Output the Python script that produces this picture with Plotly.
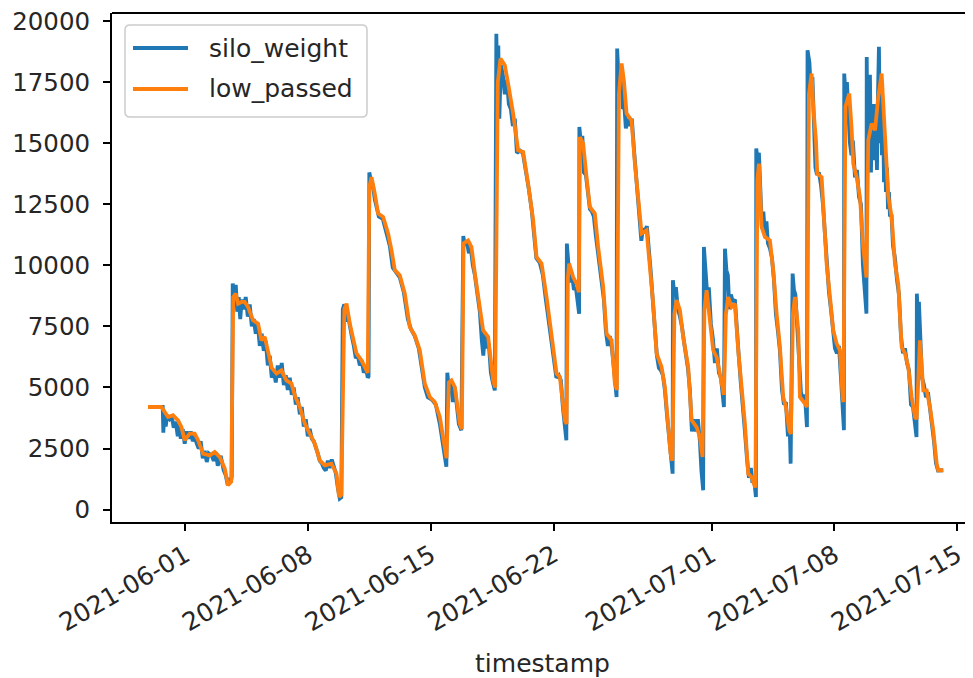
import pandas as pd
import plotly.graph_objects as go

# ---------------- data ----------------
base_time = "2021-05-29 00:00"

# silo_weight: hours since base_time and weights
silo_hours = [
    20.8, 40.9, 41.8, 43.0, 45.0, 47.1, 50.5, 53.3, 56.0, 58.7, 61.5, 63.5, 65.6, 68.3, 71.0, 73.8, 76.5, 79.3, 82.0, 84.7,
    87.5, 90.2, 92.9, 95.7, 98.4, 101.2, 103.9, 108.0, 110.7, 113.5, 116.2, 120.3, 124.4, 127.2, 129.9, 132.0, 134.0, 135.4,
    136.7, 138.8, 140.9, 142.9, 145.0, 147.0, 149.1, 151.8, 154.5, 157.3, 160.0, 162.8, 165.5, 168.2, 171.0, 173.7, 176.4, 179.2, 181.9, 184.7,
    187.4, 190.1, 192.9, 195.6, 198.3, 201.1, 203.8, 206.6, 209.3, 212.0, 214.8, 217.5, 220.2, 223.0, 225.7, 228.5, 231.2, 233.9, 236.7, 239.4,
    242.1, 244.9, 247.6, 250.3, 253.1, 255.8, 258.6, 261.3, 264.0, 266.8, 269.5, 272.2, 275.0, 277.7, 280.5, 283.2, 285.3,
    287.3, 289.4, 291.4, 294.1, 296.9, 299.6, 302.4, 305.1, 307.8, 310.6, 313.3, 316.0, 318.8, 321.5, 322.6,
    323.6, 325.6, 328.4, 331.1, 333.8, 336.6, 342.0, 347.5, 351.6, 355.7, 359.8, 365.3, 370.8, 376.3, 380.4, 385.8, 391.3, 395.4, 399.5, 403.6,
    409.1, 414.6, 420.1, 424.2, 426.9, 429.0,
    430.3, 432.4, 435.1, 437.9, 440.6, 443.3, 446.1, 449.5,
    452.2, 454.3, 457.0, 459.8, 462.5, 465.2, 468.0, 470.7, 474.8, 477.6, 479.6, 481.7, 484.4, 487.1, 489.9, 492.6, 495.3,
    497.4, 498.8, 500.1, 501.5, 503.6, 506.3, 509.0, 511.8, 514.5, 517.2, 520.0, 522.7, 525.5, 529.6, 533.7, 537.8, 541.9, 546.0, 548.7, 552.1,
    556.9, 561.0, 565.1, 569.2, 573.4, 576.1, 579.5, 582.9, 585.7, 588.4, 591.2, 593.2,
    593.9, 595.3, 598.0, 600.7, 603.5, 606.2, 608.9, 610.7,
    611.0, 613.1, 615.1, 617.2, 619.9, 622.6, 625.4, 628.1, 630.8, 633.6, 636.3, 639.1, 641.8, 644.5, 647.3, 650.0, 652.7, 655.5, 658.2, 661.0, 661.9,
    662.7, 664.4, 666.4, 668.5, 670.5, 672.6, 674.6, 677.4, 680.1, 682.8, 685.6, 688.3, 691.1, 693.8, 695.8, 697.9, 700.6, 703.4, 706.1, 708.8,
    711.6, 714.3, 717.1, 719.8, 722.5, 725.3, 728.0, 730.8, 733.5, 736.2, 738.6,
    739.0, 741.0, 743.1, 745.8, 748.6, 751.3, 754.0, 756.8, 759.5, 762.2, 765.0, 767.7, 770.5, 773.2, 775.9, 778.0, 779.6, 780.4,
    781.4, 782.8, 784.1, 786.2, 788.2, 791.0, 793.7, 796.5, 799.2, 801.9, 804.7, 807.4, 808.8,
    810.2, 812.2, 814.2, 816.3, 818.4, 821.1, 823.8, 826.6, 829.3, 832.1, 834.8, 837.5, 840.3, 843.0, 845.7, 847.8, 849.8, 852.6,
    853.0, 854.6, 856.7, 858.7, 860.8, 862.8, 864.9, 867.0, 869.0, 871.7, 874.5, 877.2, 879.9, 882.7, 885.4, 888.2, 890.9, 893.6, 896.4, 898.4, 900.1,
    902.8, 904.6, 906.6, 908.7, 911.4, 914.2, 916.9, 919.6, 922.4,
    923.2, 925.8, 927.9, 929.9, 932.0, 934.0, 936.1, 938.8, 941.5, 944.3, 947.0, 949.7, 952.5, 955.2, 958.0, 960.7, 963.4, 966.2, 968.9, 971.6, 973.0,
    973.4, 975.1, 977.1, 979.2, 981.2, 983.3, 985.3, 988.1, 990.8, 993.6, 996.3, 999.0, 1001.8, 1003.8,
    1004.2, 1005.2, 1006.3, 1007.2, 1008.6, 1010.0, 1011.3, 1012.7, 1014.1, 1015.5, 1016.8, 1018.2, 1019.6, 1020.9, 1022.3, 1023.7, 1025.0, 1026.4,
    1027.8, 1029.1, 1030.5, 1031.9, 1033.3, 1034.6, 1036.0, 1038.0, 1040.1, 1042.8, 1045.6, 1048.3, 1051.0, 1053.8, 1056.5, 1059.3, 1062.0, 1064.7,
    1067.5, 1070.2, 1072.3,
    1072.8, 1074.3, 1075.6, 1077.7, 1079.8, 1082.5, 1085.2, 1088.0, 1090.7, 1093.5, 1096.2, 1098.9, 1101.7, 1108.9,
]
silo_weight = [
    4200, 4200, 3150, 3900, 3400, 3850, 3700, 3800, 3350, 3600, 3000, 3500, 2900, 3300, 2700, 3200, 2900, 3200, 2800, 3000,
    2700, 2500, 2800, 2100, 2400, 1950, 2300, 2200, 2000, 2350, 1800, 2200, 1600, 1400, 1000, 1300, 1100, 1350,
    9250, 8900, 9200, 8100, 8700, 7800, 8600, 8200, 8700, 7900, 8400, 7500, 7800, 7200, 7600, 6700, 7200, 6500, 6900, 5900,
    6300, 5400, 5700, 5200, 5900, 5400, 6000, 5100, 5500, 4900, 5400, 4700, 5000, 4300, 4600, 3900, 4200, 3400, 3700, 3000,
    3300, 2900, 2800, 2600, 2300, 2000, 1900, 1700, 1600, 2000, 1700, 2050, 1700, 1500, 900, 450, 500,
    8200, 8400, 7700, 8000, 7400, 7100, 6700, 6200, 6300, 5900, 6100, 5600, 5800, 5400, 5450,
    13800, 13500, 13300, 12700, 12300, 12000, 11900, 11300, 10800, 9900, 9700, 9500, 8900, 7800, 7400, 7100, 6600, 5800, 5000, 4600,
    4500, 4300, 3500, 2700, 2100, 1750,
    5600, 5000, 5200, 4400, 5000, 4300, 3500, 3250,
    11200, 10800, 11000, 10500, 10700, 10000, 9600, 9000, 8100, 6900, 6300, 7200, 6600, 6800, 5600, 5200, 4880,
    19480, 17000, 19000, 16000, 18200, 17800, 17000, 17600, 16600, 16400, 15700, 16000, 14600, 14700, 14600, 13900, 13100, 12200, 11300, 10300,
    10100, 9600, 8600, 7600, 6600, 6200, 5400, 5500, 5300, 4200, 3400, 2840,
    10890, 10400, 9300, 9700, 9000, 9100, 8500, 8020,
    15660, 15000, 15300, 13800, 13700, 12900, 12300, 12200, 12000, 11200, 10500, 10000, 9400, 8600, 7300, 6700, 7100, 6600, 5800, 4800, 4610,
    18870, 17800, 17500, 18000, 16400, 16500, 15600, 16000, 15700, 16000, 14800, 13800, 12700, 11600, 11000, 11500, 11400, 11600, 10800, 9700,
    8500, 7100, 6300, 5800, 5700, 5500, 4900, 3900, 2900, 2000, 1470,
    9390, 8800, 9100, 8200, 7900, 7500, 6900, 6300, 5800, 4900, 3200, 3700, 3200, 3700, 2800, 1600, 1200, 790,
    10750, 10000, 9800, 8700, 9100, 7600, 7000, 6000, 6600, 5600, 5400, 4600, 4200,
    10680, 9800, 9600, 8200, 8800, 8500, 8600, 7200, 6200, 5100, 4300, 3200, 2100, 1300, 1700, 1100, 1300, 515,
    14780, 14400, 14600, 12500, 11500, 12200, 11200, 11800, 10900, 10700, 10300, 9400, 8000, 7300, 6500, 4900, 4300, 4400, 3000, 3800, 1880,
    9660, 9000, 8800, 7500, 6500, 4800, 4500, 4700, 3380,
    18800, 18300, 17000, 17700, 15500, 14000, 13700, 13800, 13300, 12500, 11300, 10000, 8900, 8200, 7300, 6600, 6400, 6700, 5400, 4200, 3250,
    17850, 17000, 17500, 15800, 15000, 14500, 15100, 13600, 13900, 12800, 12500, 10000, 9000, 8020,
    18530, 14500, 17500, 14000, 17800, 13800, 16500, 14600, 16600, 14300, 15500, 13900, 17000, 18940, 15000, 17800, 14500, 16500,
    13400, 15000, 13000, 14000, 12300, 13000, 12000, 12100, 10800, 10300, 9400, 8800, 7100, 6400, 6600, 6000, 5700, 4300,
    4200, 3300, 2970,
    8840, 7600, 8500, 6500, 5400, 5100, 4600, 4800, 4200, 3300, 2800, 1900, 1600, 1610,
]

# low_passed: hours since base_time and smoothed weights
low_hours = [
    20.8, 39.2, 48.2, 55.0, 61.9, 66.5, 71.0, 77.9, 84.7, 89.3, 96.1, 105.3, 112.1, 119.0, 125.8, 130.3, 134.7,
    137.4, 140.9, 144.0, 148.7, 153.2, 157.7, 164.5, 171.4, 176.0, 180.5, 185.1, 190.1, 196.6, 203.4, 210.2, 217.1, 221.6, 228.5,
    235.3, 242.1, 249.0, 255.8, 262.7, 271.8, 278.7, 282.2, 285.3,
    289.4, 292.4, 296.9, 301.4, 306.1, 312.9, 317.4, 321.5,
    323.6, 326.6, 331.1, 335.6, 342.5, 349.3, 354.0, 358.5, 365.3, 372.2, 379.0, 385.8, 392.7, 399.5, 406.4, 413.2, 420.1, 426.9, 429.2,
    432.4, 436.1, 440.6, 447.4, 450.2,
    452.6, 458.8, 463.4, 468.0, 474.8, 479.3, 486.2, 493.0, 495.8,
    499.4, 503.1, 509.0, 513.5, 520.4, 527.2, 534.1, 540.9, 547.8, 552.4, 559.3, 566.1, 573.0, 579.8, 584.3, 591.2, 593.5,
    595.3, 597.0, 602.5, 607.2, 610.3,
    611.7, 616.2, 620.8, 625.4, 632.2, 636.7, 643.6, 648.2, 655.1, 659.6, 662.3,
    665.1, 668.8, 671.9, 675.6, 682.4, 687.0, 691.5, 696.1, 703.0, 707.5, 712.0, 716.7, 723.5, 728.0, 732.5, 735.8, 738.3,
    741.0, 744.0, 748.6, 753.1, 759.9, 764.6, 771.4, 775.9, 779.6,
    782.1, 785.1, 789.6, 794.1, 798.8, 803.3, 807.0, 808.8,
    811.5, 814.6, 819.3, 823.8, 828.4, 833.0, 837.5, 842.0, 846.7, 849.8, 851.9,
    854.6, 856.7, 860.4, 864.9, 871.7, 876.3, 880.9, 885.4, 889.9, 893.6, 898.1, 900.5,
    903.2, 906.0, 910.5, 912.8, 919.6, 922.4,
    925.1, 928.8, 931.0, 934.7, 936.5, 942.5, 945.6, 949.3, 953.9, 958.4, 963.0, 967.5, 971.2, 972.3,
    975.1, 980.3, 983.6, 985.8, 990.4, 994.9, 999.4, 1001.7, 1003.8,
    1006.3, 1010.9, 1015.5, 1020.0, 1024.6, 1029.1, 1033.7, 1038.3, 1042.8, 1047.3, 1052.0, 1056.5, 1061.0, 1065.7, 1070.2, 1072.5,
    1077.0, 1081.6, 1086.2, 1090.7, 1095.2, 1099.9, 1102.1, 1108.9,
]
low_passed = [
    4200, 4200, 3790, 3860, 3655, 3380, 2840, 3110, 3110, 2840, 2290, 2220, 2360, 2150, 1680, 995, 1150,
    8700, 8840, 8430, 8500, 8500, 8290, 7750, 7610, 6930, 7070, 6500, 5800, 5570, 5700, 5290, 5160, 4680, 4200,
    3520, 3110, 2700, 2020, 1810, 1880, 1470, 520, 600,
    8200, 8430, 7610, 7070, 6390, 6110, 5840, 5600,
    13200, 13610, 12930, 12120, 11980, 11300, 10610, 9800, 9590, 8840, 7470, 7130, 6520, 5160, 4610, 4400, 3790, 2430, 2100,
    5200, 5290, 5020, 3520, 3300,
    10900, 11020, 10750, 9660, 8290, 7340, 7070, 5290, 5000,
    17500, 18460, 18190, 17440, 16210, 14710, 14640, 13340, 11840, 10340, 10070, 8700, 7070, 5570, 5430, 3660, 3500,
    9500, 10070, 9520, 9250, 8900,
    15250, 14980, 13610, 12390, 12120, 10750, 9110, 7200, 6930, 5160, 4900,
    17000, 18260, 17570, 16210, 15930, 14160, 12530, 11300, 11430, 10070, 8430, 6390, 5840, 5020, 3660, 2290, 2000,
    8000, 8570, 8160, 7070, 5840, 3660, 3380, 2970, 2150,
    8200, 8980, 7750, 6520, 6250, 5570, 4880, 4700,
    8000, 8700, 8290, 8430, 6520, 5160, 3520, 1470, 1330, 1060, 900,
    13500, 14160, 11570, 11160, 11020, 9800, 8020, 6660, 4610, 4200, 3250, 3100,
    8000, 8700, 7340, 4610, 4340, 4200,
    17000, 17850, 16480, 15120, 13750, 13610, 11980, 10070, 8700, 7340, 6800, 6520, 4610, 4400,
    16500, 17030, 15530, 14160, 13610, 12800, 10750, 9930, 9500,
    15120, 15800, 15530, 16890, 17850, 15530, 12800, 11980, 10070, 9250, 6660, 6390, 5840, 4610, 3790, 3700,
    6930, 4880, 4880, 4200, 3250, 1880, 1610, 1610,
]

series_names = ["silo_weight", "low_passed"]
series_colors = ["#1f77b4", "#ff7f0e"]
y_ticks = [0, 2500, 5000, 7500, 10000, 12500, 15000, 17500, 20000]
x_ticks = ["2021-06-01", "2021-06-08", "2021-06-15", "2021-06-22", "2021-07-01", "2021-07-08", "2021-07-15"]

# ---------------- figure ----------------
t0 = pd.Timestamp(base_time)
silo_time = t0 + pd.to_timedelta(silo_hours, unit="h")
low_time = t0 + pd.to_timedelta(low_hours, unit="h")

FONT = "DejaVu Sans"
FS = 24.5
TXT = "#262626"
# the page body has an 8px margin, so the figure is 8px smaller than the window
W, H = 965, 670
ML, MR, MT, MB = 104, 0, 5, 156
PW, PH = W - ML - MR, H - MT - MB
OFF = 8  # page offset


def px_x(x):  # window pixel -> paper fraction
    return (x - OFF - ML) / PW


def px_y(y):
    return (H - MB - (y - OFF)) / PH


fig = go.Figure()
fig.add_trace(go.Scatter(x=silo_time, y=silo_weight, mode="lines", name=series_names[0],
                         line=dict(color=series_colors[0], width=3.8), showlegend=False))
fig.add_trace(go.Scatter(x=low_time, y=low_passed, mode="lines", name=series_names[1],
                         line=dict(color=series_colors[1], width=3.8), showlegend=False))

fig.update_layout(
    width=W, height=H,
    margin=dict(l=ML, r=MR, t=MT, b=MB, pad=0, autoexpand=False),
    paper_bgcolor="white", plot_bgcolor="white",
    font=dict(family=FONT, size=FS, color=TXT),
    showlegend=False,
)
fig.update_xaxes(
    type="date", automargin=False,
    range=["2021-05-27 19:32", "2021-07-15 21:36"],
    tickvals=x_ticks, ticktext=x_ticks, tickangle=-30,
    tickfont=dict(family=FONT, size=25, color=TXT),
    ticklabeloverflow="allow",
    showgrid=False, zeroline=False,
    showline=True, linecolor="black", linewidth=2,
    ticks="outside", ticklen=7, tickwidth=2, tickcolor="black",
    title=dict(text="timestamp", font=dict(family=FONT, size=25, color=TXT), standoff=20),
)
fig.update_yaxes(
    automargin=False,
    range=[-508, 20327],
    tickvals=y_ticks, ticktext=[str(v) for v in y_ticks],
    ticklabeloverflow="allow",
    showgrid=False, zeroline=False,
    showline=True, linecolor="black", linewidth=2,
    ticks="outside", ticklen=7, tickwidth=2, tickcolor="black",
    ticklabelstandoff=8,
)
# top spine (no right spine is visible in the reference)
fig.add_shape(type="line", xref="paper", yref="paper", x0=0, x1=1, y0=1, y1=1,
              line=dict(color="black", width=2))

# legend box (matplotlib style, rounded corners)
bx0, bx1, by0, by1 = px_x(125), px_x(367), px_y(117), px_y(25)
rx, ry = 5 / PW, 5 / PH
path = (f"M{bx0 + rx},{by1} L{bx1 - rx},{by1} Q{bx1},{by1} {bx1},{by1 - ry} "
        f"L{bx1},{by0 + ry} Q{bx1},{by0} {bx1 - rx},{by0} L{bx0 + rx},{by0} "
        f"Q{bx0},{by0} {bx0},{by0 + ry} L{bx0},{by1 - ry} Q{bx0},{by1} {bx0 + rx},{by1} Z")
fig.add_shape(type="path", xref="paper", yref="paper", path=path,
              fillcolor="rgba(255,255,255,0.8)", line=dict(color="#cccccc", width=1.5))
for i, (name, col) in enumerate(zip(series_names, series_colors)):
    yy = px_y(48 + 41 * i)
    fig.add_shape(type="line", xref="paper", yref="paper", x0=px_x(133), x1=px_x(188),
                  y0=yy, y1=yy, line=dict(color=col, width=3.8))
    fig.add_annotation(xref="paper", yref="paper", x=px_x(207), y=yy, text=name,
                       showarrow=False, xanchor="left", yanchor="middle",
                       font=dict(family=FONT, size=25, color=TXT))

fig.write_html("out.html")
